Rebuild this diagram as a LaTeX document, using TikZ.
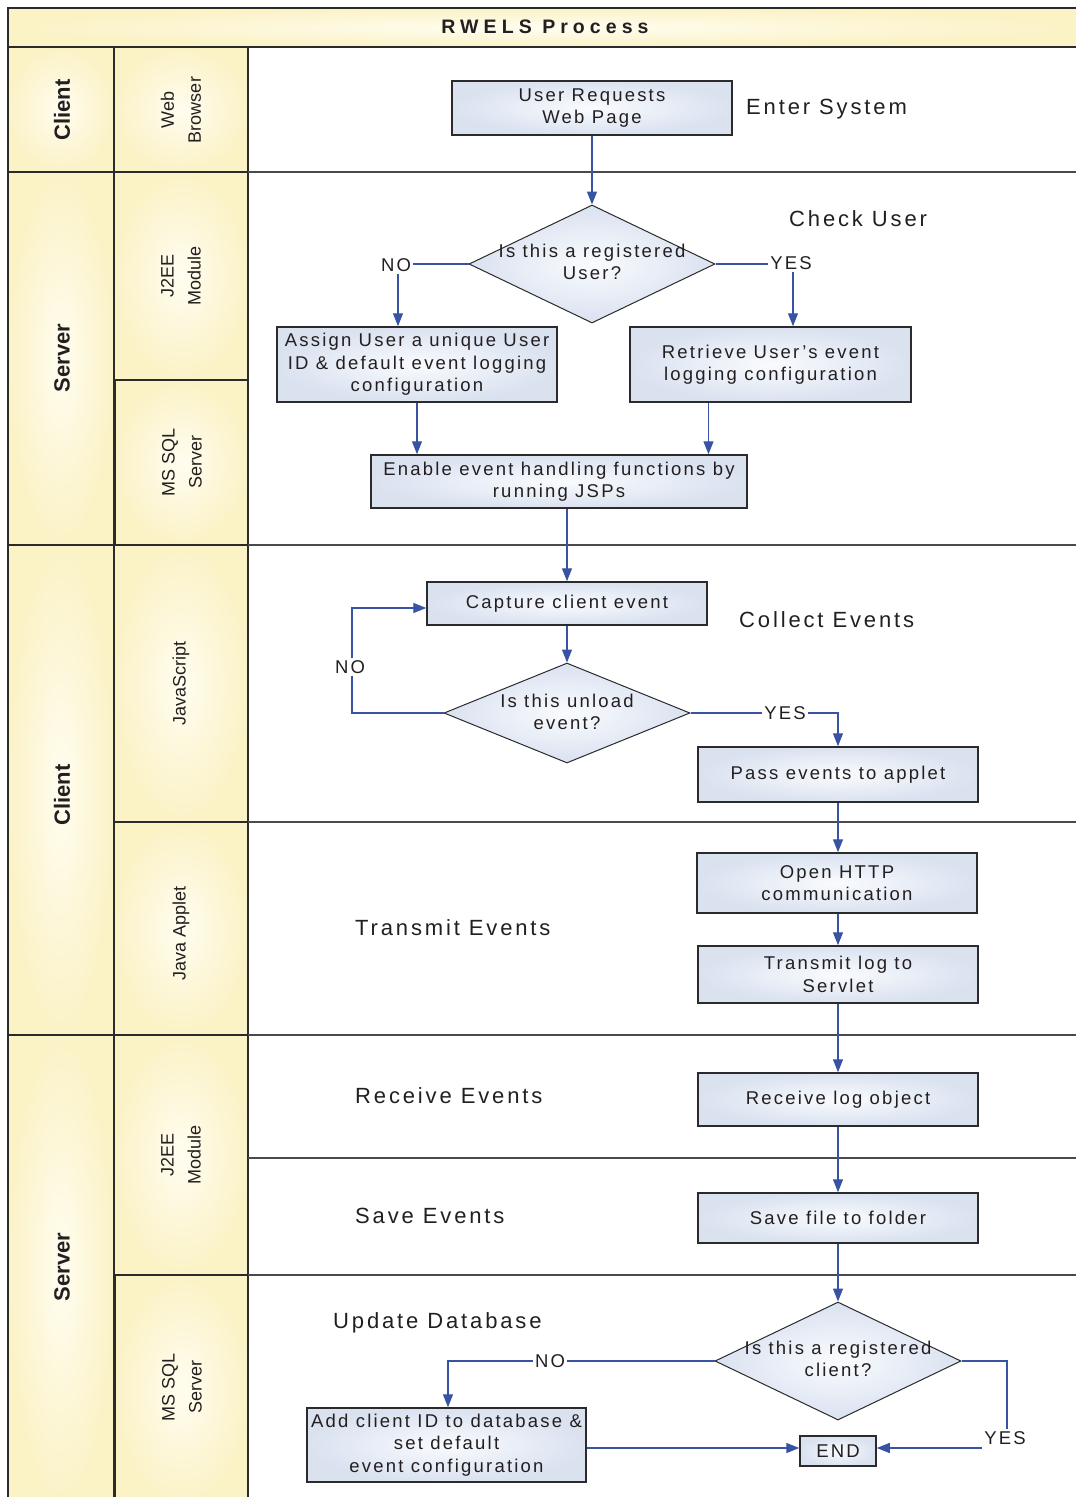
\documentclass[tikz,border=0pt]{standalone}
\usepackage{fontspec}
\setmainfont{Liberation Sans}[LetterSpace=12]
\newfontfamily\rwLaneFont{Liberation Sans}
\newfontfamily\rwTitleFont{Liberation Sans}[LetterSpace=26]
\newfontfamily\rwStageFont{Liberation Sans}[LetterSpace=13]
\usetikzlibrary{arrows.meta,shapes.geometric}
\definecolor{flow}{HTML}{3953A4}
\definecolor{ink}{HTML}{231F20}
\definecolor{laneout}{HTML}{FBF2C6}
\definecolor{lanein}{HTML}{FFFDF0}
\definecolor{boxout}{HTML}{DAE2F0}
\definecolor{boxin}{HTML}{F9FBFE}
\definecolor{frame}{HTML}{2B2B2B}
\definecolor{sep}{HTML}{4A4A4A}
\newcommand\rwBox{\fontsize{18.5}{22.5}\selectfont}
\newcommand\rwStage{\rwStageFont\fontsize{22}{26}\selectfont}
\begin{document}
\begin{tikzpicture}[x=1pt,y=-1pt,
  procbox/.style={draw=frame, line width=1.5pt, inner color=boxin, outer color=boxout,
    align=center, text=ink, font=\rwBox, inner sep=0pt},
  decision/.style={diamond, draw=frame, line width=1pt, inner color=boxin, outer color=boxout, inner sep=0pt},
  dtext/.style={align=center, text=ink, font=\rwBox, inner sep=0pt},
  stagetext/.style={anchor=west, text=ink, font=\rwStage, inner sep=0pt},
  flowtag/.style={text=ink, font=\rwBox, inner sep=2pt},
  flowline/.style={draw=flow, line width=1.3pt},
  flowarrow/.style={flowline, -{Triangle[length=13pt,width=10pt]}},
  laneframe/.style={draw=frame, line width=1.5pt, inner color=lanein, outer color=laneout},
  lanebig/.style={rotate=90, text=ink, inner sep=0pt, font=\rwLaneFont\bfseries\fontsize{22}{26}\selectfont},
  lanesmall/.style={rotate=90, text=ink, inner sep=0pt, align=center, font=\rwLaneFont\fontsize{18}{27}\selectfont},
  sepline/.style={draw=sep, line width=1.1pt}
]
\useasboundingbox (0,0) rectangle (1076,1497);
\fill[white] (0,0) rectangle (1076,1497);

% ---- header and lanes ----
\draw[laneframe] (8,8) rectangle (1080,47);
\node[text=ink, inner sep=0pt, font=\rwTitleFont\bfseries\fontsize{19.5}{22}\selectfont] (title) at (545,27) {RWELS Process};

\draw[laneframe] (8,47) rectangle (114,172);
\draw[laneframe] (8,172) rectangle (114,545);
\draw[laneframe] (8,545) rectangle (114,1035);
\draw[laneframe] (8,1035) rectangle (114,1505);

\draw[laneframe] (114,47) rectangle (248,172);
\draw[laneframe] (114,172) rectangle (248,380);
\draw[laneframe] (115,380) rectangle (248,545);
\draw[laneframe] (114,545) rectangle (248,822);
\draw[laneframe] (114,822) rectangle (248,1035);
\draw[laneframe] (114,1035) rectangle (248,1275);
\draw[laneframe] (115,1275) rectangle (248,1505);

\foreach \yy in {172,545,822,1035,1158,1275}{
  \draw[sepline] (248,\yy) -- (1080,\yy);
}

\node[lanebig] (lc1) at (62,110) {Client};
\node[lanebig] (ls1) at (62,358) {Server};
\node[lanebig] (lc2) at (62,795) {Client};
\node[lanebig] (ls2) at (62,1267) {Server};

\node[lanesmall] (lwb) at (181,110) {Web\\Browser};
\node[lanesmall] (lj1) at (181,276) {J2EE\\Module};
\node[lanesmall] (lm1) at (182,462) {MS SQL\\Server};
\node[lanesmall] (ljs) at (181,683) {JavaScript};
\node[lanesmall] (lja) at (181,933) {Java Applet};
\node[lanesmall] (lj2) at (181,1155) {J2EE\\Module};
\node[lanesmall] (lm2) at (182,1387) {MS SQL\\Server};

% ---- stage titles ----
\node[stagetext] (stEnter) at (746,109) {Enter System};
\node[stagetext] (stCheck) at (789,219) {Check User};
\node[stagetext] (stCollect) at (739,620) {Collect Events};
\node[stagetext] (stTransmit) at (355,928) {Transmit Events};
\node[stagetext] (stReceive) at (355,1096) {Receive Events};
\node[stagetext] (stSave) at (355,1216) {Save Events};
\node[stagetext] (stUpdate) at (333,1323) {Update Database};

% ---- flow nodes ----
\node[procbox, minimum width=280pt, minimum height=54pt] (ureq) at (592,108) {User Requests\\Web Page};
\node[decision, minimum width=246pt, minimum height=118pt] (d1) at (592,264) {};
\node[dtext] (d1t) at (592,262) {Is this a registered\\User?};
\node[procbox, minimum width=280pt, minimum height=75pt] (assign) at (417,364.5) {Assign User a unique User\\ID \& default event logging\\configuration};
\node[procbox, minimum width=281pt, minimum height=75pt] (retr) at (770.5,364.5) {Retrieve User's event\\logging configuration};
\node[procbox, minimum width=376pt, minimum height=53pt] (enable) at (559,481.5) {Enable event handling functions by\\running JSPs};
\node[procbox, minimum width=280pt, minimum height=43pt] (capture) at (567,603.5) {Capture client event};
\node[decision, minimum width=246pt, minimum height=100pt] (d2) at (567,713) {};
\node[dtext] (d2t) at (567,712) {Is this unload\\event?};
\node[procbox, minimum width=280pt, minimum height=55pt] (pass) at (838,774.5) {Pass events to applet};
\node[procbox, minimum width=280pt, minimum height=60pt] (http) at (837,883) {Open HTTP\\communication};
\node[procbox, minimum width=280pt, minimum height=57pt] (tlog) at (838,974.5) {Transmit log to\\Servlet};
\node[procbox, minimum width=280pt, minimum height=53pt] (recv) at (838,1099.5) {Receive log object};
\node[procbox, minimum width=280pt, minimum height=50pt] (save) at (838,1218) {Save file to folder};
\node[decision, minimum width=246pt, minimum height=118pt] (d3) at (838,1361) {};
\node[dtext] (d3t) at (838,1359) {Is this a registered\\client?};
\node[procbox, minimum width=279pt, minimum height=74pt] (add) at (446.5,1445) {Add client ID to database \&\\set default\\event configuration};
\node[procbox, minimum width=76pt, minimum height=30pt] (endn) at (838,1451) {END};

% ---- branch tags ----
\node[flowtag] (no1) at (396,265) {NO};
\node[flowtag] (yes1) at (791,263) {YES};
\node[flowtag] (no2) at (350,667) {NO};
\node[flowtag] (yes2) at (785,713) {YES};
\node[flowtag] (no3) at (550,1361) {NO};
\node[flowtag] (yes3) at (1005,1438) {YES};

\coordinate (endR) at ([yshift=3pt]endn.east);
\coordinate (endL) at ([yshift=3pt]endn.west);
\coordinate (capIn) at ([yshift=-4.5pt]capture.west);
\coordinate (retrOut) at ([xshift=-62pt]retr.south);

% ---- connectors ----
\draw[flowarrow] (ureq.south) -- (d1.north);
\draw[flowline] (d1.west) -- (d1.west -| no1.east);
\draw[flowarrow] ([xshift=2pt]no1.south) -- ([xshift=2pt]no1.south |- assign.north);
\draw[flowline] (d1.east) -- (d1.east -| yes1.west);
\draw[flowarrow] ([xshift=2pt]yes1.south) -- ([xshift=2pt]yes1.south |- retr.north);
\draw[flowarrow] (assign.south) -- (assign.south |- enable.north);
\draw[flowarrow] (retrOut) -- (retrOut |- enable.north);
\draw[flowarrow] (enable.south -| capture) -- (capture.north);
\draw[flowarrow] (capture.south) -- (d2.north);
\draw[flowline] (d2.west) -| ([xshift=2pt]no2.south);
\draw[flowarrow] ([xshift=2pt]no2.north) |- (capIn);
\draw[flowline] (d2.east) -- (d2.east -| yes2.west);
\draw[flowarrow] (d2.east -| yes2.east) -| (pass.north);
\draw[flowarrow] (pass.south) -- (pass.south |- http.north);
\draw[flowarrow] (tlog.north |- http.south) -- (tlog.north);
\draw[flowarrow] (tlog.south) -- (recv.north);
\draw[flowarrow] (recv.south) -- (save.north);
\draw[flowarrow] (save.south) -- (d3.north);
\draw[flowline] (d3.west) -- (d3.west -| no3.east);
\draw[flowarrow] (d3.west -| no3.west) -| ([xshift=1.5pt]add.north);
\draw[flowarrow] (endL -| add.east) -- (endL);
\draw[flowline] (d3.east) -| ([xshift=2pt]yes3.north);
\draw[flowarrow] (endR -| yes3.west) -- (endR);
\end{tikzpicture}
\end{document}
